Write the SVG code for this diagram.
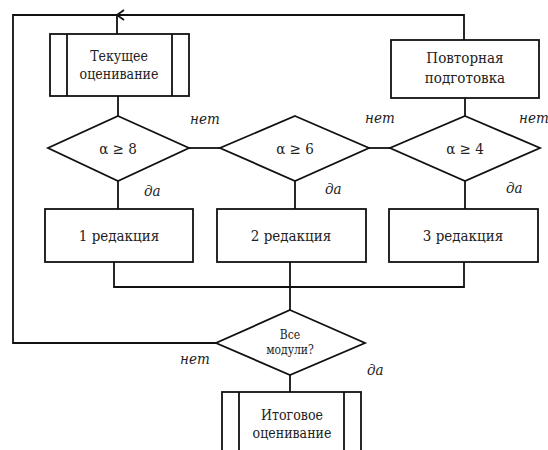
<svg xmlns="http://www.w3.org/2000/svg" width="548" height="450" viewBox="0 0 548 450">
<style>
.s{fill:#fff;stroke:#111;stroke-width:1.8}
.l{fill:none;stroke:#111;stroke-width:1.8}
.t{font-family:'DejaVu Serif Condensed','DejaVu Serif',serif;font-stretch:condensed;font-size:15px;fill:#222;text-anchor:middle}
.t2{font-size:14px}
.i{font-family:'DejaVu Serif Condensed','DejaVu Serif',serif;font-stretch:condensed;font-size:15px;font-style:italic;fill:#222}
</style>
<rect width="548" height="450" fill="#fff"/>
<g id="connectors">
<path class="l" d="M464,98 V15 H117 V34"/>
<path class="l" d="M124,10 L117,15 L124,20"/>
<path class="l" d="M118,96 V116"/>
<path class="l" d="M189,148 H220"/>
<path class="l" d="M369,148 H390"/>
<path class="l" d="M465,98 V116"/>
<path class="l" d="M118,181 V209"/>
<path class="l" d="M295,181 V209"/>
<path class="l" d="M465,181 V209"/>
<path class="l" d="M114,262 V287 H464 V262"/>
<path class="l" d="M290,262 V310"/>
<path class="l" d="M216,343 H13 V15 H117"/>
<path class="l" d="M290,375 V392"/>
</g>
<g id="n_current">
<rect class="s" x="50" y="34" width="139" height="62"/>
<path class="l" d="M67,34 V96 M172,34 V96"/>
<text class="t t2" x="119" y="61">Текущее</text>
<text class="t t2" x="119" y="79">оценивание</text>
</g>
<g id="n_repeat">
<rect class="s" x="391" y="40" width="148" height="58"/>
<text class="t" x="465" y="63">Повторная</text>
<text class="t" x="465" y="83">подготовка</text>
</g>
<g id="d1">
<polygon class="s" points="118,116 189,148 118,181 48,148"/>
<text class="t" x="118" y="154">α ≥ 8</text>
</g>
<g id="d2">
<polygon class="s" points="295,116 369,148 295,181 220,148"/>
<text class="t" x="295" y="154">α ≥ 6</text>
</g>
<g id="d3">
<polygon class="s" points="465,116 540,148 465,181 390,148"/>
<text class="t" x="465" y="154">α ≥ 4</text>
</g>
<g id="r1">
<rect class="s" x="45" y="209" width="148" height="53"/>
<text class="t" x="119" y="241">1 редакция</text>
</g>
<g id="r2">
<rect class="s" x="217" y="209" width="149" height="53"/>
<text class="t" x="291" y="241">2 редакция</text>
</g>
<g id="r3">
<rect class="s" x="389" y="209" width="149" height="53"/>
<text class="t" x="463" y="241">3 редакция</text>
</g>
<g id="d4">
<polygon class="s" points="290,310 365,343 290,375 216,343"/>
<text class="t" x="290" y="339" style="font-size:12px">Все</text>
<text class="t" x="290" y="354" style="font-size:12px">модули?</text>
</g>
<g id="n_final">
<rect class="s" x="222" y="392" width="139" height="70"/>
<path class="l" d="M239,392 V462 M344,392 V462"/>
<text class="t t2" x="292" y="420">Итоговое</text>
<text class="t t2" x="292" y="438">оценивание</text>
</g>
<g id="labels">
<text class="i" x="190" y="124">нет</text>
<text class="i" x="365" y="123">нет</text>
<text class="i" x="519" y="123">нет</text>
<text class="i" x="144" y="196">да</text>
<text class="i" x="325" y="194">да</text>
<text class="i" x="506" y="193">да</text>
<text class="i" x="180" y="364">нет</text>
<text class="i" x="367" y="375">да</text>
</g>
</svg>
